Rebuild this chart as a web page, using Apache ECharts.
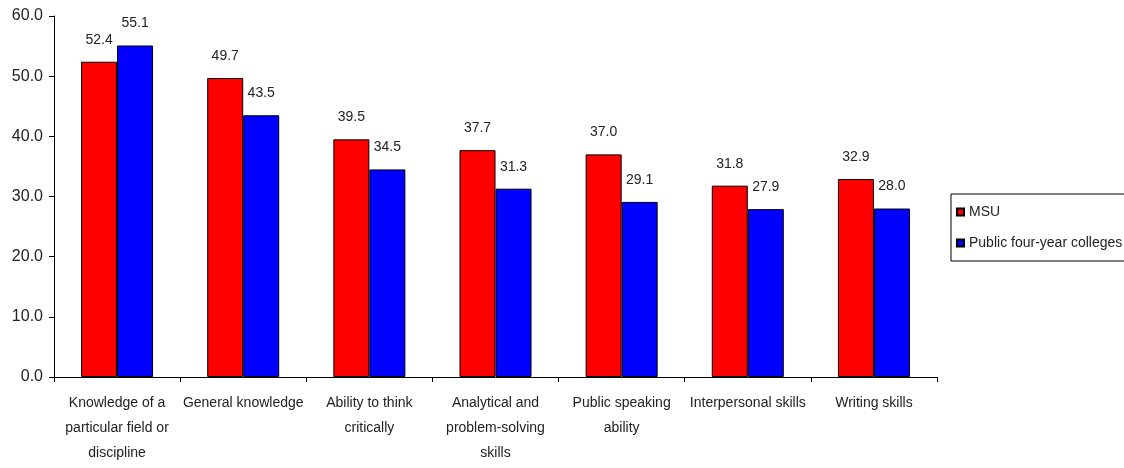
<!DOCTYPE html>
<html>
<head>
<meta charset="utf-8">
<script src="https://cdn.jsdelivr.net/npm/echarts@6/dist/echarts.min.js"></script>
<style>
  html, body { margin: 0; padding: 0; background: #fff; }
  #chart { width: 1124px; height: 468px; }
</style>
</head>
<body>
<div id="chart"></div>
<script>
// Skill categories along the x axis
const categories = [
  'Knowledge of a\nparticular field or\ndiscipline',
  'General knowledge',
  'Ability to think\ncritically',
  'Analytical and\nproblem-solving\nskills',
  'Public speaking\nability',
  'Interpersonal skills',
  'Writing skills'
];

// Percent of respondents, by group
const msuValues = [52.4, 49.7, 39.5, 37.7, 37.0, 31.8, 32.9];
const publicValues = [55.1, 43.5, 34.5, 31.3, 29.1, 27.9, 28.0];

const seriesNames = ['MSU', 'Public four-year colleges'];

// Value axis range
const yMin = 0;
const yMax = 60;
const yStep = 10;

const textColor = '#222';
const fontFamily = '"Liberation Sans", Arial, sans-serif';

const chart = echarts.init(document.getElementById('chart'), null, { renderer: 'canvas' });

const barLabel = {
  show: true,
  position: 'top',
  distance: 15,
  color: textColor,
  fontSize: 14,
  fontFamily: fontFamily,
  formatter: p => p.value.toFixed(1)
};

chart.setOption({
  animation: false,
  backgroundColor: '#fff',
  grid: { left: 54, right: 187, top: 16, bottom: 91, containLabel: false },
  legend: {
    orient: 'vertical',
    left: 951,
    top: 194,
    padding: [11, 8, 11, 5],
    itemGap: 17,
    itemWidth: 7,
    itemHeight: 7,
    icon: 'rect',
    borderColor: '#000',
    borderWidth: 1,
    textStyle: { color: textColor, fontSize: 14, fontFamily: fontFamily },
    data: seriesNames
  },
  xAxis: {
    type: 'category',
    data: categories,
    axisLine: { show: true, lineStyle: { color: '#000', width: 1 } },
    axisTick: { show: true, length: 5, lineStyle: { color: '#000' } },
    axisLabel: {
      interval: 0,
      color: textColor,
      fontSize: 14,
      lineHeight: 25,
      margin: 14,
      fontFamily: fontFamily
    },
    splitLine: { show: false }
  },
  yAxis: {
    type: 'value',
    min: yMin,
    max: yMax,
    interval: yStep,
    axisLine: { show: true, lineStyle: { color: '#000', width: 1 } },
    axisTick: { show: true, length: 5, lineStyle: { color: '#000' } },
    axisLabel: {
      color: textColor,
      fontSize: 16,
      margin: 11,
      fontFamily: fontFamily,
      formatter: v => v.toFixed(1)
    },
    splitLine: { show: false }
  },
  series: [
    {
      name: seriesNames[0],
      type: 'bar',
      data: msuValues,
      barWidth: 36,
      barGap: '0%',
      itemStyle: { color: '#ff0000', borderColor: '#000', borderWidth: 1 },
      label: barLabel
    },
    {
      name: seriesNames[1],
      type: 'bar',
      data: publicValues,
      barWidth: 36,
      barGap: '0%',
      itemStyle: { color: '#0000ff', borderColor: '#000', borderWidth: 1 },
      label: barLabel
    }
  ]
});
</script>
</body>
</html>
